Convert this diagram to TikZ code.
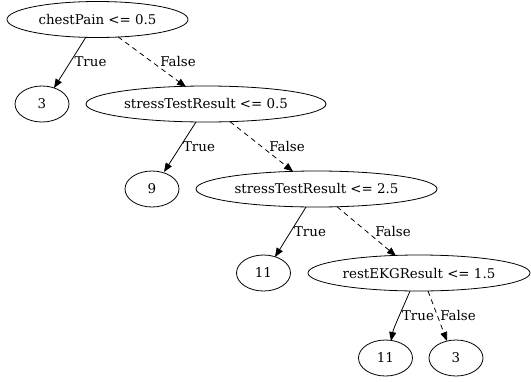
\documentclass[tikz,border=0pt]{standalone}
\usepackage{fontspec}
\setmainfont{DejaVu Serif}
\usetikzlibrary{shapes.geometric,arrows.meta,calc}
\begin{document}
\begin{tikzpicture}[x=1pt,y=-1pt,
  every node/.style={font=\fontsize{13.4}{15}\selectfont},
  tnode/.style={ellipse,draw,line width=0.8pt,minimum height=36pt,inner sep=0pt},
  leaf/.style={tnode,minimum width=54pt},
  edge/.style={line width=0.8pt,-{Triangle[length=9pt,width=7pt]}},
  fedge/.style={edge,dash pattern=on 5pt off 4pt},
  elabel/.style={inner sep=0pt}]
\useasboundingbox (0,0) rectangle (531,381);
\node[tnode,minimum width=181pt] (n0) at (97.5,19.5) {chestPain <= 0.5};
\node[leaf] (l1) at (42,104) {3};
\node[tnode,minimum width=240pt] (n1) at (206,104) {stressTestResult <= 0.5};
\node[leaf] (l2) at (152,189) {9};
\node[tnode,minimum width=241pt] (n2) at (316.5,189) {stressTestResult <= 2.5};
\node[leaf] (l3) at (263.5,273) {11};
\node[tnode,minimum width=222pt] (n3) at (419,273) {restEKGResult <= 1.5};
\node[leaf] (l4) at (385.5,358) {11};
\node[leaf] (l5) at (456,358) {3};

\draw[edge] ($(n0.center)+(-11.5,17.5)$) -- ($(l1.center)+(12,-16)$);
\draw[fedge] ($(n0.center)+(20.5,17.3)$) -- ($(n1.center)+(-20,-17)$);
\draw[edge] ($(n1.center)+(-10,18)$) -- ($(l2.center)+(12,-17)$);
\draw[fedge] ($(n1.center)+(24,17.6)$) -- ($(n2.center)+(-23.5,-17.6)$);
\draw[edge] ($(n2.center)+(-10.5,18)$) -- ($(l3.center)+(11.5,-16)$);
\draw[fedge] ($(n2.center)+(20.5,17.7)$) -- ($(n3.center)+(-23,-17)$);
\draw[edge] ($(n3.center)+(-9,18)$) .. controls ($(n3.center)+(-14,30)$) and ($(l4.center)+(8,-30)$) .. ($(l4.center)+(5.5,-17)$);
\draw[fedge] ($(n3.center)+(9,18)$) -- ($(l5.center)+(-9,-17)$);

\node[elabel] (t1) at (90.5,62) {True};
\node[elabel] (f1) at (178,62) {False};
\node[elabel] (t2) at (199,147) {True};
\node[elabel] (f2) at (287,147) {False};
\node[elabel] (t3) at (310,232) {True};
\node[elabel] (f3) at (393,232) {False};
\node[elabel] (t4) at (418,316) {True};
\node[elabel] (f4) at (458,316) {False};
\end{tikzpicture}
\end{document}
